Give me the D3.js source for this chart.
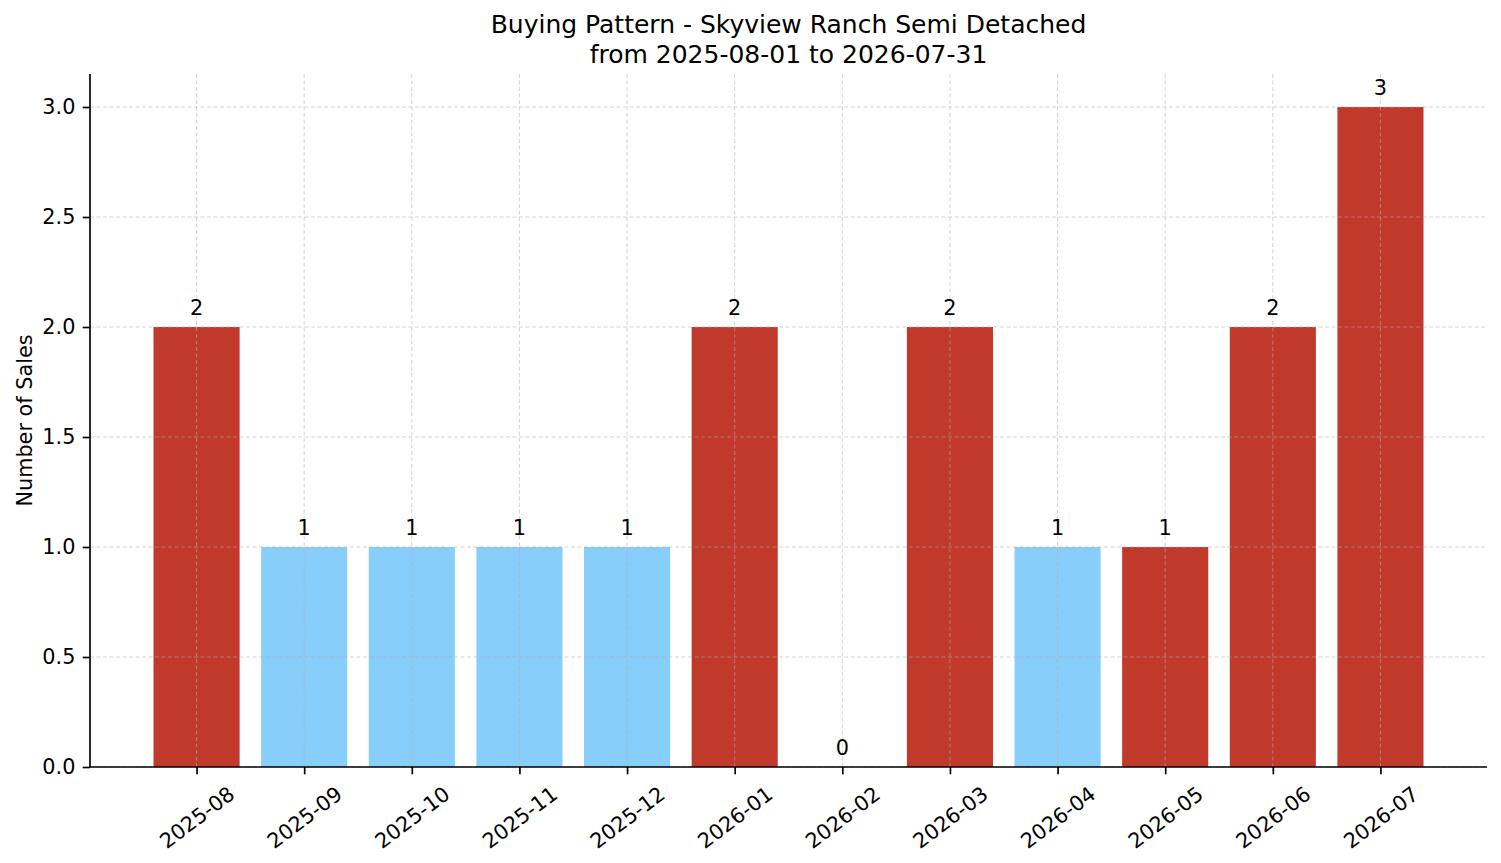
<!DOCTYPE html>
<html>
<head>
<meta charset="utf-8">
<script src="https://cdn.jsdelivr.net/npm/d3@7"></script>
<style>
  html, body { margin: 0; padding: 0; background: #fff; }
  svg { display: block; font-family: "DejaVu Sans", sans-serif; }
</style>
</head>
<body>
<div id="chart"></div>
<script>
// chart data
const months = ["2025-08", "2025-09", "2025-10", "2025-11", "2025-12", "2026-01",
                "2026-02", "2026-03", "2026-04", "2026-05", "2026-06", "2026-07"];
const sales = [2, 1, 1, 1, 1, 2, 0, 2, 1, 1, 2, 3];
// which colour group each bar is in
const barGroup = ["high", "low", "low", "low", "low", "high",
                  "high", "high", "low", "high", "high", "high"];
const yTicks = [0, 0.5, 1, 1.5, 2, 2.5, 3];
const titleLines = ["Buying Pattern - Skyview Ranch Semi Detached", "from 2025-08-01 to 2026-07-31"];

const width = 1501;
const height = 863;
const margin = {top: 74, right: 14, bottom: 96, left: 90};

const svg = d3.select("#chart")
  .append("svg")
  .attr("width", width)
  .attr("height", height);

// x is the bar index, padded like matplotlib does
const x = d3.scaleLinear()
  .domain([-0.99, months.length - 1 + 0.99])
  .range([margin.left, width - margin.right]);

const y = d3.scaleLinear()
  .domain([0, 3.15])
  .range([height - margin.bottom, margin.top]);

const barWidth = (x(1) - x(0)) * 0.8;

const colors = d3.scaleOrdinal()
  .domain(["high", "low"])
  .range(["#c0392b", "#87cefa"]);

// bars
svg.append("g")
  .selectAll("rect")
  .data(sales)
  .enter()
  .append("rect")
  .attr("x", (d, i) => x(i) - barWidth / 2)
  .attr("y", d => y(d))
  .attr("width", barWidth)
  .attr("height", d => y(0) - y(d))
  .attr("fill", (d, i) => colors(barGroup[i]));

// grid sits on top of the bars
const grid = svg.append("g")
  .attr("stroke", "#b0b0b0")
  .attr("stroke-opacity", 0.55)
  .attr("stroke-width", 1)
  .attr("stroke-dasharray", "4,2.5");

grid.selectAll(".hgrid")
  .data(yTicks)
  .enter()
  .append("line")
  .attr("x1", margin.left)
  .attr("x2", width - margin.right)
  .attr("y1", d => y(d))
  .attr("y2", d => y(d));

grid.selectAll(".vgrid")
  .data(months)
  .enter()
  .append("line")
  .attr("x1", (d, i) => x(i))
  .attr("x2", (d, i) => x(i))
  .attr("y1", y(0))
  .attr("y2", y(3.15));

// value labels over the bars
svg.append("g")
  .selectAll("text")
  .data(sales)
  .enter()
  .append("text")
  .attr("x", (d, i) => x(i))
  .attr("y", d => y(d) - 12.5)
  .attr("text-anchor", "middle")
  .style("font-size", "20.8px")
  .attr("fill", "#000")
  .text(d => d);

// axes
const tickLen = 7.3;
const yAxis = svg.append("g")
  .attr("transform", `translate(${margin.left},0)`)
  .call(d3.axisLeft(y).tickValues(yTicks).tickFormat(d3.format(".1f"))
    .tickSize(tickLen).tickPadding(7.3));

const xAxis = svg.append("g")
  .attr("transform", `translate(0,${y(0)})`)
  .call(d3.axisBottom(x).tickValues(d3.range(months.length)).tickFormat(i => months[i])
    .tickSize(tickLen).tickPadding(7.3));

[xAxis, yAxis].forEach(ax => {
  ax.select(".domain").attr("stroke", "#000").attr("stroke-width", 1.67);
  ax.selectAll(".tick line").attr("stroke", "#000").attr("stroke-width", 1.67);
  ax.selectAll(".tick text")
    .attr("fill", "#000")
    .style("font-size", "20.8px")
    .style("font-family", "DejaVu Sans, sans-serif");
});
// x spine goes the full width without the end ticks
xAxis.select(".domain").attr("d", `M${margin.left},0H${width - margin.right}`);
yAxis.select(".domain").attr("d", `M0,${y(0)}V${y(3.15)}`);

// rotate month labels, box centered under the tick
const angle = 37;
const rad = angle * Math.PI / 180;
xAxis.selectAll(".tick text").each(function() {
  const t = d3.select(this);
  const w = this.getComputedTextLength();
  const h = 20.8 * 1.17;
  const halfV = (w * Math.sin(rad) + h * Math.cos(rad)) / 2;
  const top = tickLen + 7.3;
  t.attr("y", 0)
    .attr("dy", "0.35em")
    .attr("text-anchor", "middle")
    .attr("transform", `translate(0,${top + halfV}) rotate(${-angle})`);
});

// y axis label
svg.append("text")
  .attr("transform", `translate(32,${(y(0) + y(3.15)) / 2}) rotate(-90)`)
  .attr("text-anchor", "middle")
  .style("font-size", "20.8px")
  .text("Number of Sales");

// title
svg.append("g")
  .selectAll("text")
  .data(titleLines)
  .enter()
  .append("text")
  .attr("x", (x.range()[0] + x.range()[1]) / 2)
  .attr("y", (d, i) => 33.3 + i * 29.5)
  .attr("text-anchor", "middle")
  .style("font-size", "25px")
  .text(d => d);
</script>
</body>
</html>
